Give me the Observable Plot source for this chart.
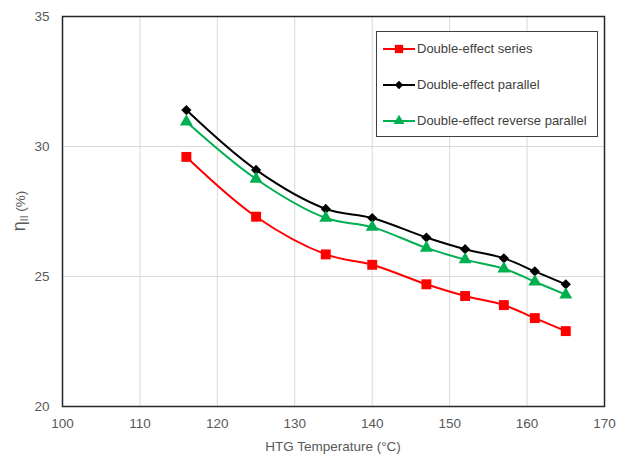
<!DOCTYPE html>
<html>
<head>
<meta charset="utf-8">
<script src="https://cdn.jsdelivr.net/npm/d3@7"></script>
<script src="https://cdn.jsdelivr.net/npm/@observablehq/plot@0.6"></script>
<style>
  html, body { margin: 0; padding: 0; background: #fff; }
  #wrap { position: relative; width: 620px; height: 455px; font-family: "Liberation Sans", Arial, sans-serif; }
  #legend { position: absolute; left: 376px; top: 31px; width: 222px; height: 106px;
            border: 1.5px solid #404040; background: #fff; box-sizing: border-box; }
  .item { position: absolute; left: 6px; display: flex; align-items: center; font-size: 13px; color: #404040; white-space: nowrap; }
  .item svg { margin-right: 2px; }
</style>
</head>
<body>
<div id="wrap"></div>
<script>
const temps = [116, 125, 134, 140, 147, 152, 157, 161, 165];
const seriesNames = ["Double-effect series", "Double-effect parallel", "Double-effect reverse parallel"];
const seriesValues = [29.6, 27.3, 25.85, 25.45, 24.7, 24.25, 23.9, 23.4, 22.9];
const parallelValues = [31.4, 29.1, 27.6, 27.25, 26.5, 26.05, 25.7, 25.2, 24.7];
const reverseValues = [30.95, 28.75, 27.25, 26.9, 26.1, 25.65, 25.3, 24.8, 24.3];
const xTicks = [100, 110, 120, 130, 140, 150, 160, 170];
const yTicks = [20, 25, 30, 35];

const colors = ["#ff0000", "#000000", "#00b050"];
const symbols = ["square", "diamond2", "triangle"];
const radii = [5.6, 4.6, 4.8];
const allValues = [seriesValues, parallelValues, reverseValues];
const rows = allValues.map((vals, i) => temps.map((t, j) => ({t, v: vals[j], s: seriesNames[i]})));

const marks = [
  Plot.gridX(xTicks, {stroke: "#d9d9d9", strokeOpacity: 1, strokeWidth: 1}),
  Plot.gridY(yTicks, {stroke: "#d9d9d9", strokeOpacity: 1, strokeWidth: 1}),
  Plot.axisX(xTicks, {tickSize: 0, tickPadding: 12, fontSize: 13.5, fill: "#595959", label: null}),
  Plot.axisY(yTicks, {tickSize: 0, tickPadding: 13, fontSize: 13.5, fill: "#595959", label: null}),
];
rows.forEach((data, i) => {
  marks.push(Plot.line(data, {x: "t", y: "v", stroke: colors[i], strokeWidth: 2, curve: "catmull-rom"}));
});
rows.forEach((data, i) => {
  marks.push(Plot.dot(data, {x: "t", y: "v", symbol: () => symbols[i], r: radii[i], fill: colors[i], stroke: "none"}));
});
marks.push(Plot.frame({stroke: "#262626", strokeWidth: 1.5}));

const chart = Plot.plot({
  width: 620,
  height: 455,
  marginLeft: 62,
  marginRight: 16,
  marginTop: 16,
  marginBottom: 49,
  style: {fontFamily: "'Liberation Sans', Arial, sans-serif", background: "#fff"},
  x: {domain: [100, 170]},
  y: {domain: [20, 35]},
  symbol: {type: "identity"},
  marks
});

const svg = d3.select(chart);
// axis titles
svg.append("text")
  .attr("x", 62 + (620 - 62 - 16) / 2).attr("y", 451)
  .attr("text-anchor", "middle").attr("font-size", 13.5).attr("fill", "#595959")
  .text("HTG Temperature (°C)");
const yl = svg.append("text")
  .attr("transform", `translate(25, ${16 + (455 - 16 - 49) / 2}) rotate(-90)`)
  .attr("text-anchor", "middle").attr("font-size", 18).attr("fill", "#595959");
yl.append("tspan").text("η");
yl.append("tspan").attr("font-size", 10).attr("dy", 3).text("II");
yl.append("tspan").attr("font-size", 13.5).attr("dy", -3).text(" (%)");

const wrap = document.getElementById("wrap");
wrap.appendChild(chart);

// legend
const legend = document.createElement("div");
legend.id = "legend";
const tops = [9, 45, 81];
seriesNames.forEach((name, i) => {
  const item = document.createElement("div");
  item.className = "item";
  item.style.top = tops[i] + "px";
  const sw = d3.create("svg").attr("width", 32).attr("height", 14);
  sw.append("line").attr("x1", 0).attr("x2", 32).attr("y1", 7).attr("y2", 7)
    .attr("stroke", colors[i]).attr("stroke-width", 2);
  const symMap = {square: d3.symbolSquare, diamond2: d3.symbolDiamond2, triangle: d3.symbolTriangle};
  sw.append("path").attr("transform", "translate(16,7)")
    .attr("d", d3.symbol(symMap[symbols[i]], Math.PI * radii[i] * radii[i] * 0.7)())
    .attr("fill", colors[i]);
  item.appendChild(sw.node());
  const span = document.createElement("span");
  span.textContent = name;
  item.appendChild(span);
  legend.appendChild(item);
});
wrap.appendChild(legend);
</script>
</body>
</html>
